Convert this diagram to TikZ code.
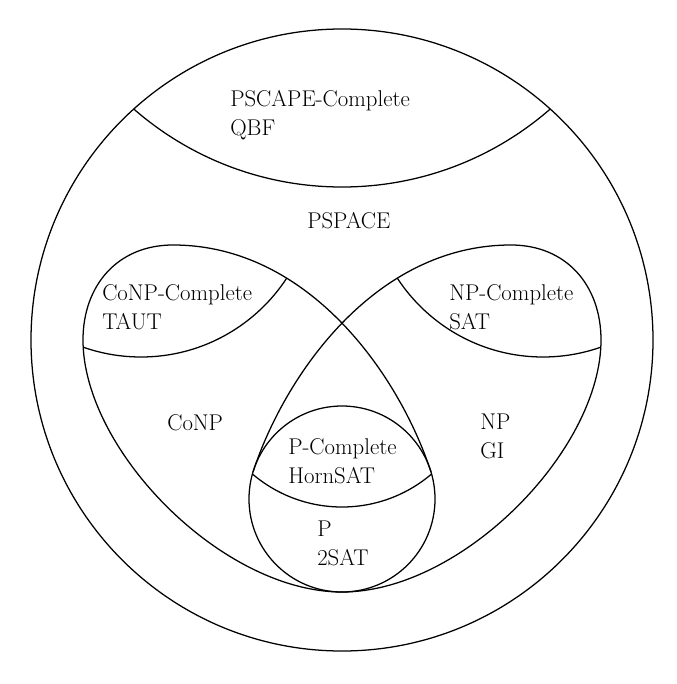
\documentclass[tikz,border=0pt]{standalone}
\usepackage{tikz}
\usetikzlibrary{positioning}

\begin{document}
\begin{tikzpicture}[x=0.025cm,y=-0.025cm,
 ln/.style={draw=black,line width=0.9pt},
 lbl/.style={align=left,anchor=base west,inner sep=0pt,
 font=\fontsize{16.2}{20}\selectfont}]
\useasboundingbox (0,0) rectangle (677,684);
\coordinate (o) at (342,340);
\coordinate (pc) at (342,499);
\draw[ln] (o) circle[radius=311];
\begin{scope}
\clip (o) circle[radius=311];
\draw[ln] (342,-130) circle[radius=317];
\end{scope}
\draw[ln] (342,592) .. controls (222,592) and (83,450) .. (83,340)
 .. controls (83,285) and (118,245) .. (173,245)
 .. controls (310,245) and (400,377) .. (431,472);
\draw[ln] (342,592) .. controls (462,592) and (601,450) .. (601,340)
 .. controls (601,285) and (566,245) .. (511,245)
 .. controls (374,245) and (284,377) .. (253,472);
\begin{scope}
\clip (342,592) .. controls (222,592) and (83,450) .. (83,340)
 .. controls (83,285) and (118,245) .. (173,245)
 .. controls (310,245) and (400,377) .. (431,472) -- cycle;
\draw[ln] (141,183) circle[radius=174];
\end{scope}
\begin{scope}
\clip (342,592) .. controls (462,592) and (601,450) .. (601,340)
 .. controls (601,285) and (566,245) .. (511,245)
 .. controls (374,245) and (284,377) .. (253,472) -- cycle;
\draw[ln] (543,183) circle[radius=174];
\end{scope}
\draw[ln] (pc) circle[radius=93];
\begin{scope}
\clip (pc) circle[radius=93];
\draw[ln] (342,369) circle[radius=138];
\end{scope}
\node[lbl] (pscapec) at (230,135) {PSCAPE-Complete\\QBF};
\node[lbl] (pspace) at (307,228) {PSPACE};
\node[lbl] (conpc) at (102,329) {CoNP-Complete\\TAUT};
\node[lbl] (npc) at (449,329) {NP-Complete\\SAT};
\node[lbl] (conp) at (167,430) {CoNP};
\node[lbl] (np) at (480,458) {NP\\GI};
\node[lbl] (pcomp) at (288,483) {P-Complete\\HornSAT};
\node[lbl] (p) at (317,565) {P\\2SAT};
\end{tikzpicture}
\end{document}
